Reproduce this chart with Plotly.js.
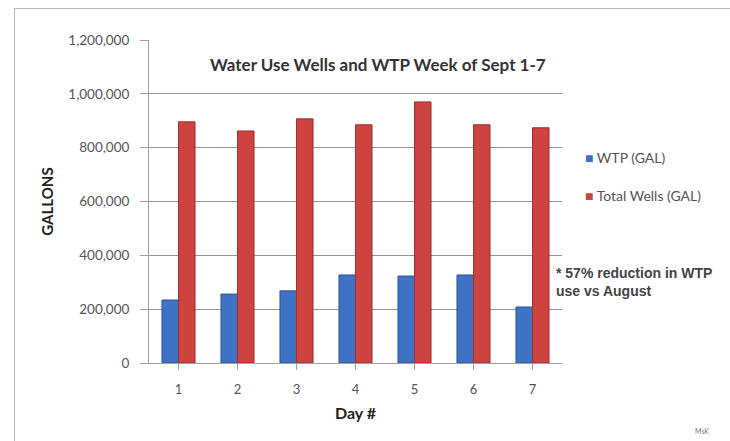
<!DOCTYPE html>
<html>
<head>
<meta charset="utf-8">
<script src="https://cdn.plot.ly/plotly-3.0.1.min.js"></script>
<style>
  html, body { margin: 0; padding: 0; background: #ffffff; }
  #frame { position: absolute; left: 14px; top: 8px; width: 730px; height: 440px; border: 1px solid #b8b8b8; pointer-events: none; }
  #chart { position: absolute; left: 0; top: 0; width: 730px; height: 441px; }
</style>
</head>
<body>
<div id="chart"></div>
<div id="frame"></div>
<script>
const days = ["1", "2", "3", "4", "5", "6", "7"];
const wtp = [234000, 256000, 268000, 327000, 323000, 327000, 208000];
const totalWells = [896000, 862000, 907000, 885000, 970000, 885000, 874000];
const yTicks = [0, 200000, 400000, 600000, 800000, 1000000, 1200000];
const yTickLabels = ["0", "200,000", "400,000", "600,000", "800,000", "1,000,000", "1,200,000"];
const seriesNames = ["WTP (GAL)", "Total Wells (GAL)"];
const seriesColors = ["#3f72c4", "#cc4340"];
const seriesLines = ["#2c5699", "#a12f2d"];

const traces = [
  {
    type: "bar", name: seriesNames[0], x: days, y: wtp,
    marker: { color: seriesColors[0], line: { color: seriesLines[0], width: 1 } }
  },
  {
    type: "bar", name: seriesNames[1], x: days, y: totalWells,
    marker: { color: seriesColors[1], line: { color: seriesLines[1], width: 1 } }
  }
];

const legendAnn = seriesNames.map((n, i) => ({
  text: "<span style='color:" + seriesColors[i] + "'>■</span> " + n,
  xref: "paper", yref: "paper", x: 1.05, y: [0.637, 0.52][i],
  xanchor: "left", yanchor: "middle", showarrow: false,
  font: { size: 14, color: "#555555", family: "Lato, sans-serif" }
}));

const layout = {
  width: 730, height: 441,
  margin: { l: 149, r: 168, t: 40, b: 78 },
  paper_bgcolor: "#ffffff", plot_bgcolor: "#ffffff",
  barmode: "group", bargap: 0.44, bargroupgap: 0,
  font: { family: "Lato, 'Open Sans', sans-serif", color: "#555555", size: 13 },
  showlegend: false,
  xaxis: {
    type: "category", range: [-0.5, 6.5],
    showline: true, linecolor: "#a0a0a0", linewidth: 1,
    ticks: "outside", ticklen: 6, tickcolor: "#a0a0a0",
    ticklabelstandoff: 8,
    tickfont: { size: 13, color: "#555555" },
    title: { text: "Day #", font: { size: 16, color: "#222222", family: "Lato, sans-serif", weight: "bold" }, standoff: 12 }
  },
  yaxis: {
    range: [0, 1200000], tickvals: yTicks, ticktext: yTickLabels,
    showgrid: true, gridcolor: "#959595", gridwidth: 1,
    showline: true, linecolor: "#a0a0a0", linewidth: 1,
    ticks: "outside", ticklen: 8, tickcolor: "#a0a0a0",
    ticklabelstandoff: 8,
    tickfont: { size: 13.5, color: "#555555" },
    zeroline: false,
    title: { text: "GALLONS", font: { size: 15, color: "#222222", family: "Lato, sans-serif", weight: "bold" }, standoff: 11 }
  },
  annotations: [
    {
      text: "<b>Water Use Wells and WTP Week of Sept 1-7</b>",
      xref: "paper", yref: "paper", x: 0.555, y: 0.925, xanchor: "center", yanchor: "middle",
      showarrow: false, bgcolor: "#ffffff",
      font: { size: 17, color: "#333333", family: "Lato, sans-serif" }
    },
    {
      text: "<b>* 57% reduction in WTP<br>use vs August</b>",
      xref: "paper", yref: "paper", x: 0.98, y: 0.25, xanchor: "left", yanchor: "middle",
      align: "left", showarrow: false,
      font: { size: 14, color: "#444444", family: "'Liberation Sans', sans-serif" }
    },
    {
      text: "MsK",
      xref: "paper", yref: "paper", x: 1.34, y: -0.21, xanchor: "center", yanchor: "middle",
      showarrow: false, font: { size: 7, color: "#777777" }
    }
  ].concat(legendAnn)
};

Plotly.newPlot("chart", traces, layout, { displayModeBar: false, staticPlot: true });
</script>
</body>
</html>
